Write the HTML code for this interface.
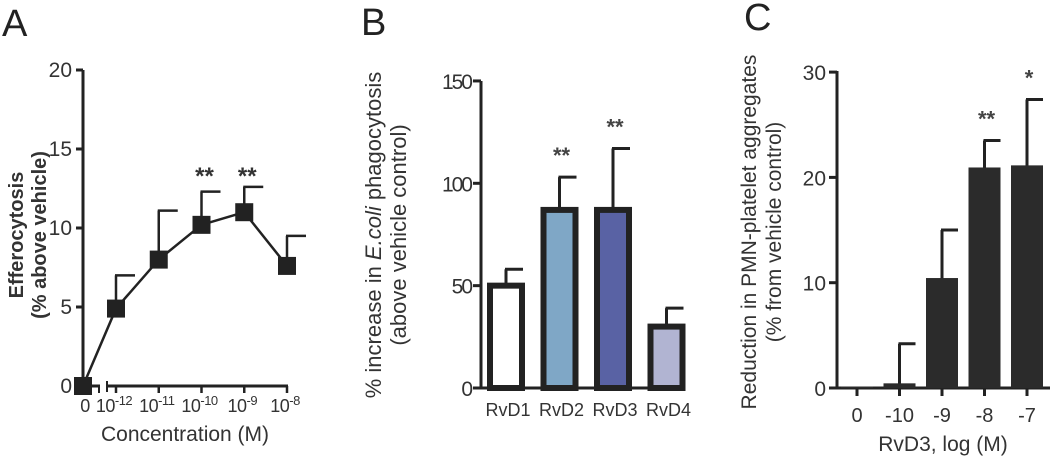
<!DOCTYPE html>
<html><head><meta charset="utf-8"><style>
html,body{margin:0;padding:0;background:#fff;width:1050px;height:460px;overflow:hidden}
svg{display:block;font-family:"Liberation Sans",Arial,sans-serif}
</style></head><body>
<svg id="fig" width="1050" height="460" viewBox="0 0 1050 460"></svg>
<script>
// Panel A data
const aCats = ["0","10-12","10-11","10-10","10-9","10-8"];
const aVals = [0, 4.9, 8.0, 10.2, 11.0, 7.6];
const aErr = [0, 7.0, 11.1, 12.3, 12.6, 9.5];
const aTicks = [0,5,10,15,20];
const aStars = ["","","","**","**",""];
// Panel B data
const bCats = ["RvD1","RvD2","RvD3","RvD4"];
const bVals = [50, 87, 87, 30];
const bErr = [58, 103, 117, 39];
const bColors = ["#ffffff","#7fa7c6","#5962a4","#b1b4d2"];
const bTicks = [0,50,100,150];
const bStars = ["","**","**",""];
// Panel C data
const cCats = ["0","-10","-9","-8","-7"];
const cVals = [0, 0.3, 10.3, 20.8, 21.0];
const cErr = [0, 4.2, 15.0, 23.5, 27.4];
const cTicks = [0,10,20,30];
const cStars = ["","","","**","*"];

const NS="http://www.w3.org/2000/svg";
const svg=document.getElementById('fig');
function mk(tag,attrs,parent,text){const e=document.createElementNS(NS,tag);for(const k in attrs)e.setAttribute(k,attrs[k]);if(text!==undefined)e.textContent=text;(parent||svg).appendChild(e);return e;}
const INK="#222";

// ---------- Panel A ----------
const gA=mk('g',{});


const aY=v=>386-v*15.8;
const aXpos=[83,116,158,201,244,287];
const aX=i=>aXpos[0]+(i===0?0:33+(i-1)*42.75);
let t=mk('text',{x:2,y:36,'font-size':38,fill:INK},gA,'A');

let ax=mk('line',{x1:83,y1:70,x2:83,y2:387,stroke:INK,'stroke-width':3},gA);

aTicks.forEach(v=>{mk('line',{x1:76,x2:83,y1:aY(v),y2:aY(v),stroke:INK,'stroke-width':3},gA);
 const l=mk('text',{x:72,y:aY(v)+7,'font-size':21,fill:'#333','text-anchor':'end'},gA,v);
 });
mk('line',{x1:83,x2:100,y1:386,y2:386,stroke:INK,'stroke-width':3},gA);
mk('line',{x1:99,x2:99,y1:386,y2:393,stroke:INK,'stroke-width':2},gA);
mk('line',{x1:107,x2:288,y1:386,y2:386,stroke:INK,'stroke-width':3},gA);
mk('line',{x1:107,x2:107,y1:381,y2:392,stroke:INK,'stroke-width':2},gA);
aCats.forEach((c,i)=>{const x=aX(i);
 if(i>0)mk('line',{x1:x,x2:x,y1:386,y2:393,stroke:INK,'stroke-width':2.5},gA);
 const l=mk('text',{x:i===0?x+2:x-2,y:412,'font-size':18,fill:'#333','text-anchor':'middle','letter-spacing':'-0.5'},gA);
 
 if(i===0){l.textContent='0';}else{const p=c.split('-');l.appendChild(document.createTextNode('10'));mk('tspan',{dy:-7,'font-size':13},l,'-'+p[1]);}
});
let pts=aVals.map((v,i)=>aX(i)+','+aY(v)).join(' ');
let ln=mk('polyline',{points:pts,fill:'none',stroke:INK,'stroke-width':2.5},gA);

aVals.forEach((v,i)=>{const x=aX(i);
 if(i>0){mk('line',{x1:x,x2:x,y1:aY(v),y2:aY(aErr[i]),stroke:INK,'stroke-width':2.5},gA);
  mk('line',{x1:x-1,x2:x+19,y1:aY(aErr[i]),y2:aY(aErr[i]),stroke:INK,'stroke-width':2.5},gA);}
 const m=mk('rect',{x:x-9,y:aY(v)-9,width:18,height:18,fill:INK},gA);
 
 if(aStars[i]){const s=mk('text',{x:x+3,y:184,'font-size':24,'font-weight':'bold',fill:'#333','text-anchor':'middle'},gA,aStars[i]);
  }
});
t=mk('text',{x:185,y:441,'font-size':21,fill:'#333','text-anchor':'middle'},gA,'Concentration (M)');

t=mk('text',{transform:'translate(23,235) rotate(-90)','font-size':20,'font-weight':'bold',fill:'#333','text-anchor':'middle'},gA,'Efferocytosis');

t=mk('text',{transform:'translate(46,235) rotate(-90)','font-size':20,'font-weight':'bold',fill:'#333','text-anchor':'middle'},gA,'(% above vehicle)');


// ---------- Panel B ----------
const gB=mk('g',{});


const bY=v=>388-v*2.047;
const bX=i=>506+i*53.5;
t=mk('text',{x:361,y:35,'font-size':38,fill:INK},gB,'B');

mk('line',{x1:481,y1:81,x2:481,y2:389,stroke:INK,'stroke-width':3},gB);
mk('line',{x1:480,y1:388,x2:684,y2:388,stroke:INK,'stroke-width':3},gB);
bTicks.forEach(v=>{mk('line',{x1:473,x2:481,y1:bY(v),y2:bY(v),stroke:INK,'stroke-width':3},gB);
 const l=mk('text',{x:471,y:bY(v)+8,'font-size':21,fill:'#333','text-anchor':'end','letter-spacing':'-2'},gB,v);
 });
bCats.forEach((c,i)=>{const x=bX(i),v=bVals[i];
 mk('line',{x1:x,x2:x,y1:bY(v),y2:bY(bErr[i]),stroke:INK,'stroke-width':3},gB);
 mk('line',{x1:x-1,x2:x+17,y1:bY(bErr[i]),y2:bY(bErr[i]),stroke:INK,'stroke-width':3},gB);
 const r=mk('rect',{x:x-16,y:bY(v),width:32,height:388-bY(v),fill:bColors[i],stroke:INK,'stroke-width':6},gB);
 
 const l=mk('text',{x:x+2,y:416,'font-size':18,fill:'#333','text-anchor':'middle'},gB,c);
 
 if(bStars[i]){const s=mk('text',{x:x+2,y:bY(bErr[i])-14,'font-size':22,'font-weight':'bold',fill:'#444','text-anchor':'middle'},gB,bStars[i]);
  }
});
t=mk('text',{transform:'translate(381,235) rotate(-90)','font-size':22,fill:'#333','text-anchor':'middle'},gB);
t.appendChild(document.createTextNode('% increase in '));mk('tspan',{'font-style':'italic'},t,'E.coli');t.appendChild(document.createTextNode(' phagocytosis'));

t=mk('text',{transform:'translate(406,235) rotate(-90)','font-size':22,fill:'#333','text-anchor':'middle'},gB,'(above vehicle control)');


// ---------- Panel C ----------
const gC=mk('g',{});


const cY=v=>388-v*10.53;
const cX=i=>857+i*42.5;
t=mk('text',{x:744,y:30,'font-size':38,fill:INK},gC,'C');

mk('line',{x1:837,y1:71,x2:837,y2:389,stroke:INK,'stroke-width':3},gC);
mk('line',{x1:836,y1:388,x2:1050,y2:388,stroke:INK,'stroke-width':3},gC);
cTicks.forEach(v=>{mk('line',{x1:829,x2:837,y1:cY(v),y2:cY(v),stroke:INK,'stroke-width':3},gC);
 const l=mk('text',{x:826,y:cY(v)+8,'font-size':21,fill:'#333','text-anchor':'end'},gC,v);
 });
cCats.forEach((c,i)=>{const x=cX(i),v=cVals[i];
 mk('line',{x1:x,x2:x,y1:388,y2:396,stroke:INK,'stroke-width':3},gC);
 if(cErr[i]>0){mk('line',{x1:x,x2:x,y1:cY(v),y2:cY(cErr[i]),stroke:INK,'stroke-width':3},gC);
  mk('line',{x1:x-1,x2:x+16,y1:cY(cErr[i]),y2:cY(cErr[i]),stroke:INK,'stroke-width':3},gC);}
 const r=mk('rect',{x:x-16,y:cY(v)-1.5,width:32,height:388-cY(v)+1.5,fill:'#2b2b2b'},gC);
 
 const l=mk('text',{x:x,y:422,'font-size':20,fill:'#333','text-anchor':'middle'},gC,c);
 
 if(cStars[i]){const s=mk('text',{x:x+2,y:cY(cErr[i])-14,'font-size':22,'font-weight':'bold',fill:'#444','text-anchor':'middle'},gC,cStars[i]);
  }
});
t=mk('text',{x:943,y:451,'font-size':21,fill:'#333','text-anchor':'middle'},gC,'RvD3, log (M)');

t=mk('text',{transform:'translate(756,232) rotate(-90)','font-size':21,fill:'#333','text-anchor':'middle'},gC,'Reduction in PMN-platelet aggregates');

t=mk('text',{transform:'translate(781,232) rotate(-90)','font-size':21,fill:'#333','text-anchor':'middle'},gC,'(% from vehicle control)');

</script>
</body></html>
